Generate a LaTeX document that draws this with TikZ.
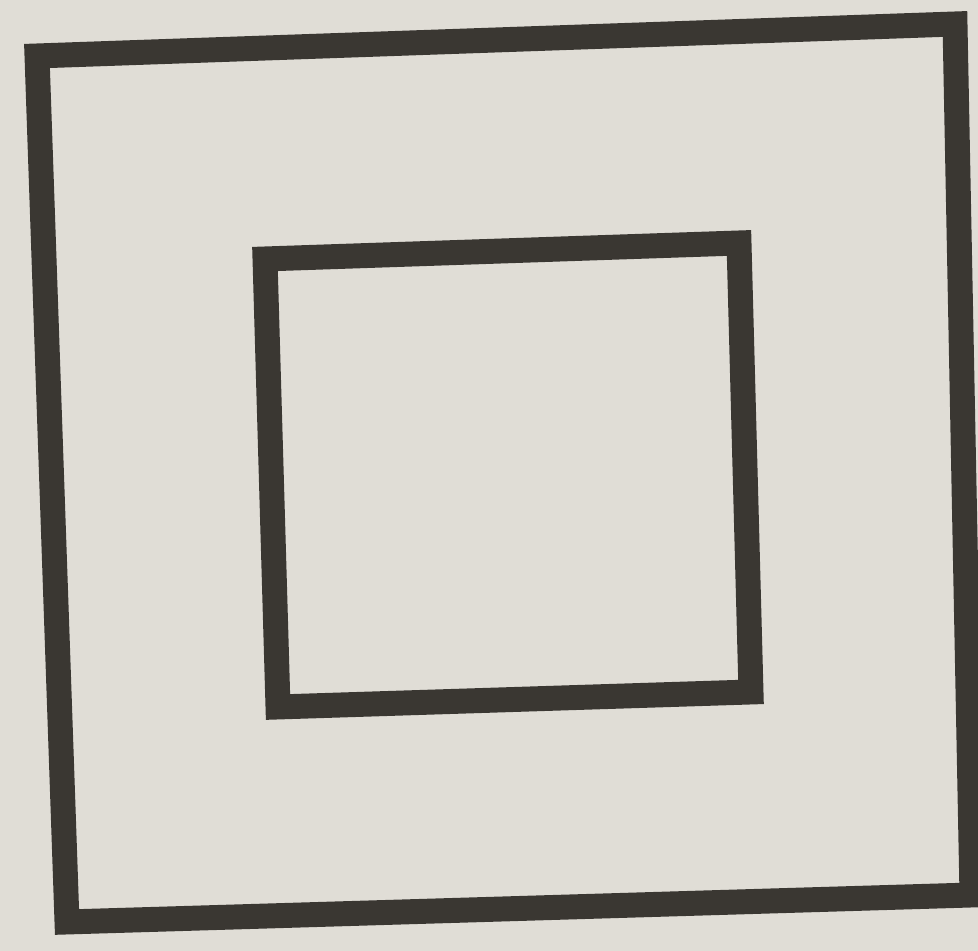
\documentclass[tikz,border=0pt]{standalone}
\usepackage{tikz}
\usetikzlibrary{calc}
\definecolor{paper}{RGB}{224,221,214}
\definecolor{ink}{RGB}{58,55,50}
\tikzset{
  frame/.style={draw=ink, line width=7.1pt, line join=miter}
}

\begin{document}
\begin{tikzpicture}
    \useasboundingbox[fill=paper] (0,0) rectangle (9.78,9.51);
    % outer square
    \coordinate (otl) at (0.37,8.95);
    \coordinate (otr) at (9.55,9.27);
    \coordinate (obr) at (9.72,0.56);
    \coordinate (obl) at (0.67,0.29);
    % inner square
    \coordinate (itl) at (2.65,6.92);
    \coordinate (itr) at (7.39,7.08);
    \coordinate (ibr) at (7.51,2.59);
    \coordinate (ibl) at (2.78,2.44);

    \draw [frame] (otl) -- (otr) -- (obr) -- (obl) -- cycle;
    \draw [frame] (itl) -- (itr) -- (ibr) -- (ibl) -- cycle;
\end{tikzpicture}
\end{document}
